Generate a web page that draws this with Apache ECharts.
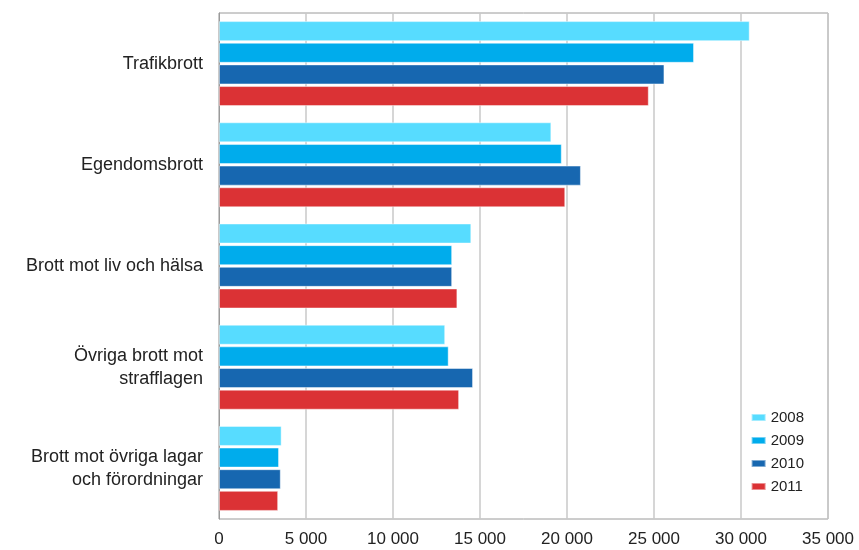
<!DOCTYPE html>
<html>
<head>
<meta charset="utf-8">
<script src="https://cdn.jsdelivr.net/npm/echarts@6/dist/echarts.min.js"></script>
<style>html,body{margin:0;padding:0;background:#fff}#c{width:859px;height:550px}</style>
</head>
<body>
<div id="c"></div>
<script>
const categories = ["Trafikbrott", "Egendomsbrott", "Brott mot liv och hälsa", "Övriga brott mot\nstrafflagen", "Brott mot övriga lagar\noch förordningar"];
const years = ["2008", "2009", "2010", "2011"];
const values2008 = [30500, 19100, 14500, 13000, 3600];
const values2009 = [27300, 19700, 13400, 13200, 3450];
const values2010 = [25600, 20800, 13400, 14600, 3550];
const values2011 = [24700, 19900, 13700, 13800, 3400];
const xTicks = [0, 5000, 10000, 15000, 20000, 25000, 30000, 35000];
const colors = ["#57dcff", "#00acec", "#1767b0", "#db3235"];

const seriesData = [values2008, values2009, values2010, values2011];
const font = "Liberation Sans, Arial, sans-serif";
const chart = echarts.init(document.getElementById('c'));
chart.setOption({
  animation: false,
  backgroundColor: '#fff',
  textStyle: { fontFamily: font },
  grid: { left: 219, right: 31, top: 13, bottom: 31, show: true, borderColor: '#9a9a9a', borderWidth: 1 },
  legend: {
    orient: 'vertical', right: 50, top: 405,
    itemWidth: 14, itemHeight: 7, itemGap: 8, icon: 'rect',
    textStyle: { fontSize: 15, color: '#222', fontFamily: font },
    data: years
  },
  xAxis: {
    type: 'value', min: xTicks[0], max: xTicks[xTicks.length - 1], interval: xTicks[1] - xTicks[0],
    axisLine: { show: false },
    axisTick: { show: false },
    splitLine: { show: true, lineStyle: { color: '#c8c8c8', width: 1.5 } },
    axisLabel: {
      margin: 12, fontSize: 17, color: '#222', fontFamily: font,
      formatter: v => String(v).replace(/\B(?=(\d{3})+(?!\d))/g, ' ')
    }
  },
  yAxis: {
    type: 'category', data: categories, inverse: true,
    axisLine: { show: true, lineStyle: { color: '#9a9a9a' } },
    axisTick: { show: false },
    axisLabel: { margin: 16, fontSize: 18, color: '#222', align: 'right', lineHeight: 23, fontFamily: font }
  },
  series: years.map((y, i) => ({
    name: y, type: 'bar', data: seriesData[i],
    barGap: '8%', barCategoryGap: '16%',
    itemStyle: { color: colors[i], borderColor: 'rgba(255,255,255,0.45)', borderWidth: 1 }
  }))
});
</script>
</body>
</html>
